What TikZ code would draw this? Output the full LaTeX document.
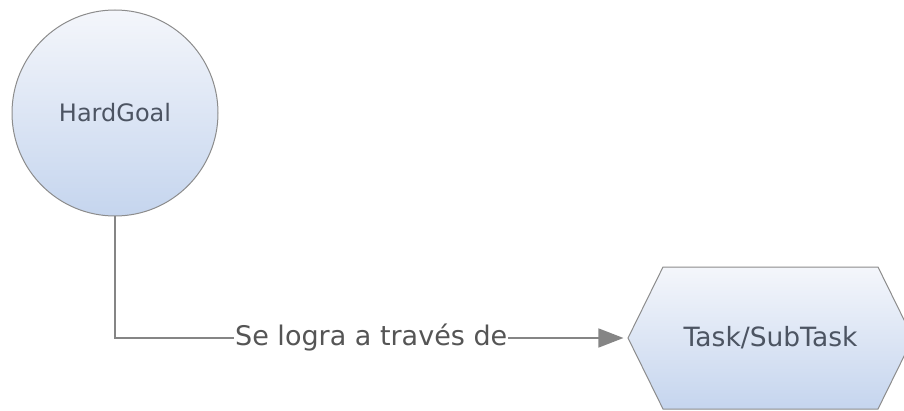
\documentclass[tikz,border=0pt]{standalone}
\usepackage{fontspec}
\setmainfont{DejaVu Sans}
\usetikzlibrary{arrows.meta}
\usetikzlibrary{shapes.symbols}
\usetikzlibrary{positioning}
\definecolor{boxtop}{HTML}{F4F6FB}
\definecolor{boxbot}{HTML}{C5D5EE}
\definecolor{boxline}{HTML}{8C8C8C}
\definecolor{boxtext}{HTML}{4C5462}
\definecolor{linkgray}{HTML}{858585}
\definecolor{lbltext}{HTML}{555555}
\tikzstyle{goal}=[circle,draw=boxline,top color=boxtop,bottom color=boxbot,line width=1pt,minimum size=206pt,inner sep=0pt,text=boxtext,font=\fontsize{24}{28}\selectfont]
\tikzstyle{task}=[signal,signal to=west and east,signal pointer angle=127.5,draw=boxline,top color=boxtop,bottom color=boxbot,line width=1pt,minimum width=285pt,minimum height=142pt,inner sep=0pt,text=boxtext,font=\fontsize{26.5}{30}\selectfont]
\tikzstyle{arr}=[-{Triangle[length=25pt,width=19pt]},draw=linkgray,line width=1.5pt,shorten >=4pt]
\tikzstyle{lbl}=[fill=white,inner sep=1pt,text=lbltext,font=\fontsize{27}{30}\selectfont]

\begin{document}
\begin{tikzpicture}[x=1pt,y=1pt]
        \useasboundingbox (0,0) rectangle (904,410);
        \node[goal] (hard) at (115,297) {HardGoal};
        \node[task] (task) at (770.5,72) {Task/SubTask};
        \draw[arr] (hard.south) |- node[lbl,pos=0.75] {Se logra a través de} (task.west);
      \end{tikzpicture}
\end{document}
